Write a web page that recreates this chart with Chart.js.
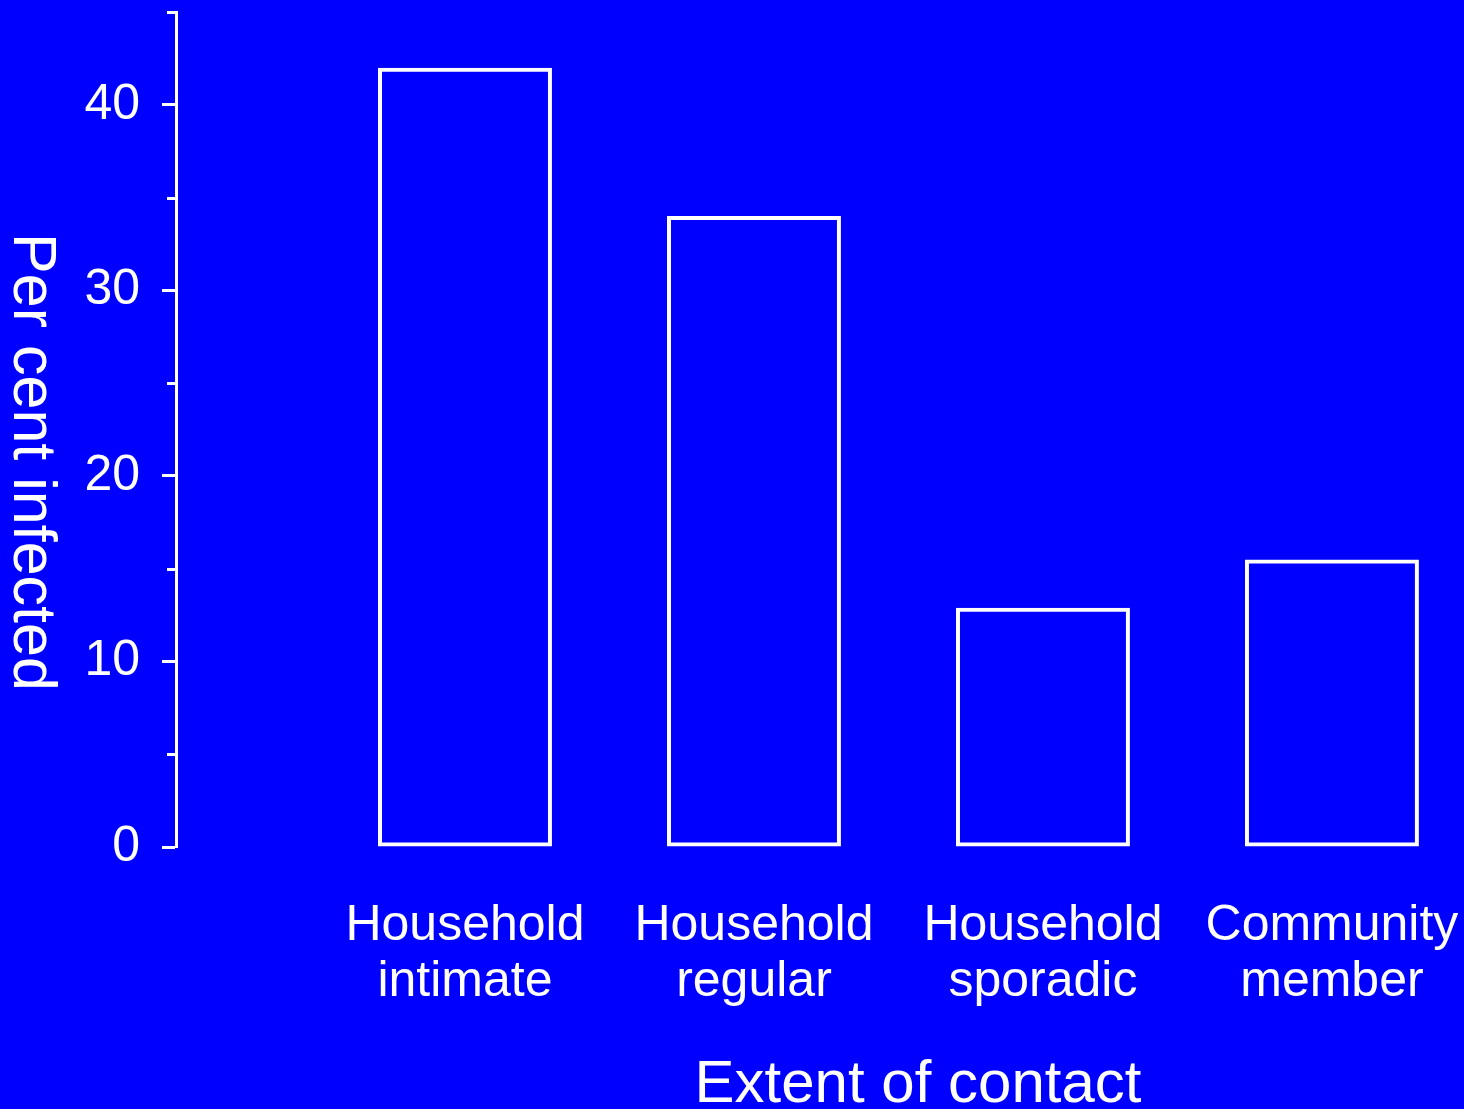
<!DOCTYPE html>
<html>
<head>
<meta charset="utf-8">
<script src="https://cdn.jsdelivr.net/npm/chart.js@4.4.1/dist/chart.umd.min.js"></script>
<style>
  html, body { margin: 0; padding: 0; background: #0000ff; }
  canvas { display: block; }
</style>
</head>
<body>
<canvas id="myChart" width="1464" height="1109"></canvas>
<script>
// dados
const categories = [
  ["Household", "intimate"],
  ["Household", "regular"],
  ["Household", "sporadic"],
  ["Community", "member"],
];
const percentInfected = [42.0, 34.0, 12.9, 15.5];
const yMajorTicks = [0, 10, 20, 30, 40];
const yMinorTicks = [5, 15, 25, 35, 45];
const xTitle = "Extent of contact";
const yTitle = "Per cent infected";

const FONT = "'Liberation Sans', Arial, Helvetica, sans-serif";
const WHITE = "#ffffff";

// ticks menores e títulos dos eixos
const extras = {
  id: "extras",
  afterDraw(chart) {
    const c = chart.ctx;
    const y = chart.scales.y;
    c.save();
    c.strokeStyle = WHITE;
    c.lineWidth = 3;
    yMinorTicks.forEach((v) => {
      const py = Math.round(y.getPixelForValue(v)) + 0.5;
      c.beginPath();
      c.moveTo(y.right - 9, py);
      c.lineTo(y.right, py);
      c.stroke();
    });
    c.fillStyle = WHITE;
    c.font = "60px " + FONT;
    c.textAlign = "center";
    c.textBaseline = "alphabetic";
    // título do eixo x
    c.fillText(xTitle, 918, 1102);
    // título do eixo y, girado no sentido horário
    c.font = "61px " + FONT;
    c.translate(14, 462);
    c.rotate(Math.PI / 2);
    c.fillText(yTitle, 0, 0);
    c.restore();
  },
};

const ctx = document.getElementById("myChart");
new Chart(ctx, {
  type: "bar",
  data: {
    datasets: [
      {
        data: percentInfected.map((v, i) => ({ x: i, y: v })),
        backgroundColor: "rgba(0, 0, 0, 0)",
        borderColor: WHITE,
        borderWidth: 4,
        borderSkipped: false,
        categoryPercentage: 1,
        barPercentage: 0.602,
      },
    ],
  },
  options: {
    responsive: false,
    animation: false,
    layout: { padding: { left: 82, top: 12, right: 0, bottom: 82 } },
    scales: {
      x: {
        type: "linear",
        min: -1,
        max: 3.457,
        offset: false,
        afterBuildTicks: (scale) => {
          scale.ticks = categories.map((c, i) => ({ value: i }));
        },
        afterFit: (scale) => {
          scale.paddingLeft = 0;
          scale.paddingRight = 0;
          scale.height = 180;
        },
        grid: { display: false, drawTicks: false, offset: false },
        border: { display: false },
        ticks: {
          color: WHITE,
          padding: 51,
          maxRotation: 0,
          autoSkip: false,
          font: { family: FONT, size: 50, lineHeight: 1.12 },
          callback: (value) => categories[value],
        },
      },
      y: {
        min: 0,
        max: 45,
        afterFit: (scale) => {
          scale.paddingTop = 0;
          scale.paddingBottom = 0;
          scale.width = 94;
        },
        grid: {
          display: true,
          drawOnChartArea: false,
          drawTicks: true,
          tickLength: 14,
          tickWidth: 3,
          tickColor: (c) => (yMajorTicks.includes(c.tick.value) ? WHITE : "rgba(0,0,0,0)"),
        },
        border: { display: true, color: WHITE, width: 3 },
        ticks: {
          stepSize: 5,
          color: WHITE,
          padding: 22,
          font: { family: FONT, size: 50, lineHeight: 0.4 },
          callback: (value) => (yMajorTicks.includes(value) ? value : ""),
        },
      },
    },
    plugins: {
      legend: { display: false },
      tooltip: { enabled: false },
    },
  },
  plugins: [extras],
});
</script>
</body>
</html>
